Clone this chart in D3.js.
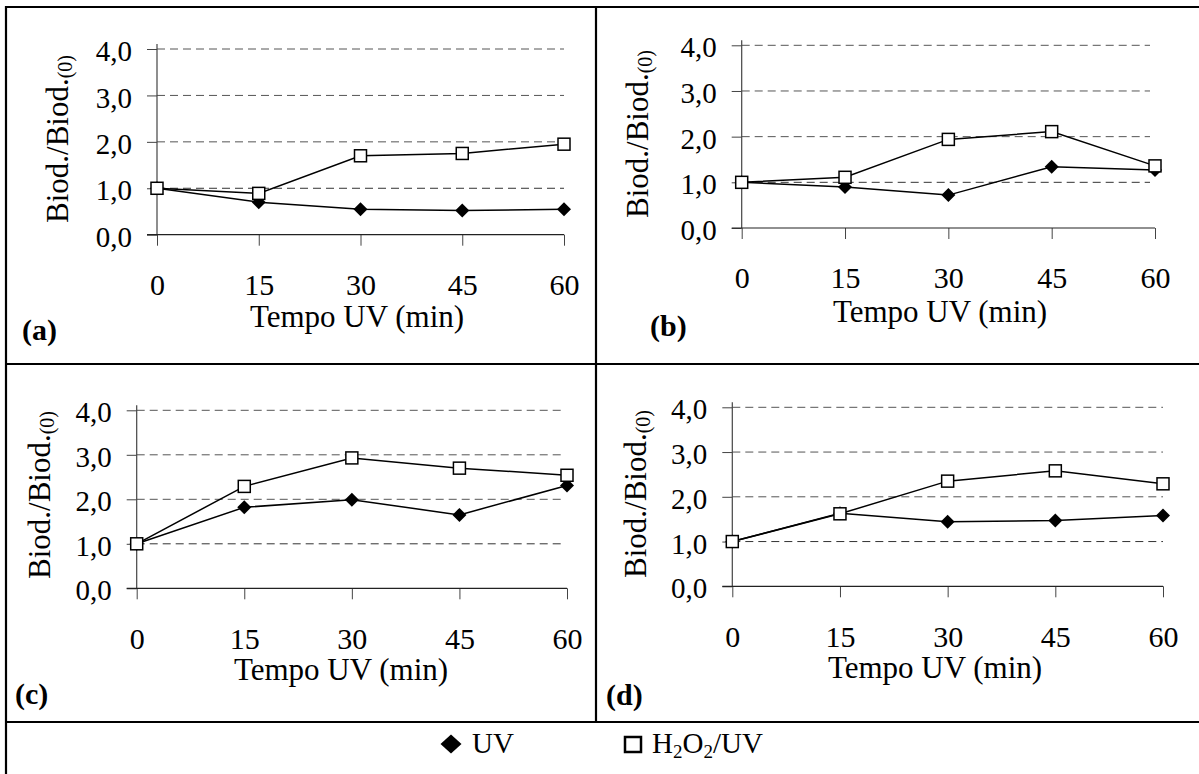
<!DOCTYPE html>
<html><head><meta charset="utf-8">
<script src="https://cdn.jsdelivr.net/npm/d3@7"></script>
<style>
body{margin:0;background:#fff;}
svg{display:block;}
svg text{font-family:"Liberation Serif","Times New Roman",serif !important;fill:#000;}
</style></head><body>
<svg id="c" width="1199" height="774"></svg>
<script>
// ---- data ----
const times = [0, 15, 30, 45, 60];
const yTicks = [0, 1, 2, 3, 4];
const panelNames = ["(a)", "(b)", "(c)", "(d)"];
const uvA = [1.0, 0.70, 0.55, 0.52, 0.55];
const h2o2A = [1.0, 0.89, 1.70, 1.75, 1.95];
const uvB = [1.0, 0.90, 0.72, 1.34, 1.27];
const h2o2B = [1.0, 1.11, 1.94, 2.11, 1.36];
const uvC = [1.0, 1.82, 1.99, 1.65, 2.31];
const h2o2C = [1.0, 2.29, 2.93, 2.70, 2.54];
const uvD = [1.0, 1.63, 1.44, 1.47, 1.58];
const h2o2D = [1.0, 1.62, 2.35, 2.58, 2.29];
const xTitle = "Tempo UV (min)";

// ---- layout ----
const layout = [
  {uv: uvA, h2: h2o2A, xr: [157, 564], yr: [234.7, 49], gridEnd: 564, tx: 357, tyOff: 92, yl: [68, 139], lab: [22, 340]},
  {uv: uvB, h2: h2o2B, xr: [741.7, 1155], yr: [228, 45.3], gridEnd: 1150, tx: 940, tyOff: 94, yl: [648, 134], lab: [650, 336]},
  {uv: uvC, h2: h2o2C, xr: [136.7, 567], yr: [588.3, 410.3], gridEnd: 561, tx: 341, tyOff: 92, yl: [50, 495], lab: [15, 704]},
  {uv: uvD, h2: h2o2D, xr: [732.3, 1163], yr: [586.3, 407.3], gridEnd: 1163, tx: 935, tyOff: 92, yl: [646, 494], lab: [606, 705]}
];

const svg = d3.select("#c");
const fmt = d => d3.format(".1f")(d).replace(".", ",");
const diamond = (cx, cy, rx, ry) => `M${cx},${cy-ry}L${cx+rx},${cy}L${cx},${cy+ry}L${cx-rx},${cy}Z`;

layout.forEach((p, i) => {
  const x = d3.scaleLinear().domain([0, 60]).range(p.xr);
  const y = d3.scaleLinear().domain([0, 4]).range(p.yr);
  const g = svg.append("g");

  // gridlines
  g.selectAll(".grid").data(yTicks.filter(d => d > 0)).join("line")
    .attr("x1", x(0)).attr("x2", p.gridEnd)
    .attr("y1", d => y(d)).attr("y2", d => y(d))
    .attr("stroke", d => d === 1 ? "#333" : "#555").attr("stroke-width", 1).attr("stroke-dasharray", "8,5");

  // y axis
  const ya = g.append("g").attr("transform", `translate(${x(0)},0)`)
    .call(d3.axisLeft(y).tickValues(yTicks).tickSize(10).tickPadding(15).tickFormat(fmt));
  ya.attr("font-family", null).attr("font-size", null);
  ya.select(".domain").remove();
  ya.selectAll("line").attr("stroke", "#444");
  ya.selectAll("text").attr("dy", "0.4em").style("font-size", "29px");

  // x axis
  const xa = g.append("g").attr("transform", `translate(0,${y(0)})`)
    .call(d3.axisBottom(x).tickValues(times).tickSize(11).tickPadding(28));
  xa.attr("font-family", null).attr("font-size", null);
  xa.select(".domain").remove();
  xa.selectAll("line").attr("stroke", "#444");
  xa.selectAll("text").style("font-size", "30px");

  // axis lines
  g.append("line").attr("x1", x(0)).attr("x2", x(0)).attr("y1", y(4) - 5).attr("y2", y(0))
    .attr("stroke", "#444").attr("stroke-width", 1.2);
  g.append("line").attr("x1", x(0) - 10).attr("x2", x(60)).attr("y1", y(0)).attr("y2", y(0))
    .attr("stroke", "#222").attr("stroke-width", 1.2);

  // series
  const line = d3.line().x((d, k) => x(times[k])).y(d => y(d));
  g.append("path").attr("d", line(p.uv)).attr("fill", "none").attr("stroke", "#000").attr("stroke-width", 1.5);
  g.selectAll(".uvm").data(p.uv).join("path")
    .attr("d", (d, k) => diamond(x(times[k]), y(d), 7, 7)).attr("fill", "#000");
  g.append("path").attr("d", line(p.h2)).attr("fill", "none").attr("stroke", "#000").attr("stroke-width", 1.5);
  g.selectAll(".h2m").data(p.h2).join("rect")
    .attr("x", (d, k) => x(times[k]) - 6).attr("y", d => y(d) - 6)
    .attr("width", 12).attr("height", 12)
    .attr("fill", "#fff").attr("stroke", "#000").attr("stroke-width", 1.5);

  // titles
  g.append("text").attr("x", p.tx).attr("y", y(0) + p.tyOff).attr("text-anchor", "middle")
    .style("font-size", "31px").text(xTitle);
  const yt = g.append("text").attr("transform", `translate(${p.yl[0]},${p.yl[1]}) rotate(-90)`)
    .attr("text-anchor", "middle").style("font-size", "31px");
  yt.append("tspan").text("Biod./Biod.");
  yt.append("tspan").style("font-size", "20px").attr("dy", 4).text("(0)");

  g.append("text").attr("x", p.lab[0]).attr("y", p.lab[1]).style("font-size", "30px")
    .attr("font-weight", "bold").text(panelNames[i]);
});

// borders
const borders = [
  [5, 7, 1199, 7], [6, 6, 6, 774], [6, 364, 1199, 364], [6, 722, 1199, 722], [596, 7, 596, 722]
];
svg.selectAll(".b").data(borders).join("line")
  .attr("x1", d => d[0]).attr("y1", d => d[1]).attr("x2", d => d[2]).attr("y2", d => d[3])
  .attr("stroke", "#000").attr("stroke-width", 2.2);

// legend
const lg = svg.append("g");
lg.append("path").attr("d", diamond(451, 744, 10.5, 9.5)).attr("fill", "#000");
lg.append("text").attr("x", 472).attr("y", 753).style("font-size", "29px").text("UV");
lg.append("rect").attr("x", 625).attr("y", 737).attr("width", 16).attr("height", 15)
  .attr("fill", "#fff").attr("stroke", "#000").attr("stroke-width", 2.5);
const lt = lg.append("text").attr("x", 652).attr("y", 753).style("font-size", "29px");
lt.append("tspan").text("H");
lt.append("tspan").style("font-size", "19px").attr("dy", 5).text("2");
lt.append("tspan").attr("dy", -5).text("O");
lt.append("tspan").style("font-size", "19px").attr("dy", 5).text("2");
lt.append("tspan").attr("dy", -5).text("/UV");
</script>
</body></html>
